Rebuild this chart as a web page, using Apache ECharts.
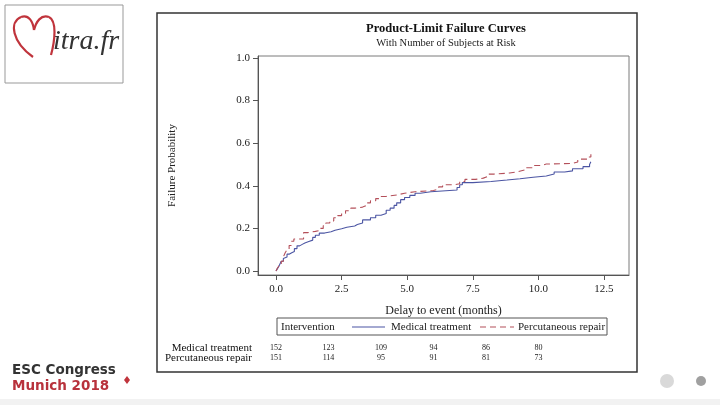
<!DOCTYPE html>
<html>
<head>
<meta charset="utf-8">
<script src="https://cdn.jsdelivr.net/npm/echarts@6/dist/echarts.min.js"></script>
<style>html,body{margin:0;padding:0;background:#fff;}#c{width:720px;height:405px;}</style>
</head>
<body>
<div id="c"></div>
<script>
// ---- data ----
var medTime = [0, 0.05, 0.1, 0.15, 0.2, 0.28, 0.35, 0.42, 0.5, 0.6, 0.7, 0.8, 0.9, 1.0, 1.1, 1.25, 1.4, 1.5, 1.65, 1.85, 2.1, 2.25, 2.5, 2.7, 3.0, 3.1, 3.3, 3.6, 3.8, 4.0, 4.2, 4.35, 4.5, 4.6, 4.75, 4.9, 5.1, 5.3, 5.5, 5.9, 6.9, 7.0, 7.1, 7.5, 8.2, 8.8, 9.3, 9.8, 10.3, 10.6, 11.0, 11.3, 11.7, 11.95, 12.0];
var medProb = [0, 0.01, 0.02, 0.033, 0.046, 0.059, 0.066, 0.079, 0.086, 0.092, 0.105, 0.118, 0.125, 0.131, 0.138, 0.145, 0.158, 0.168, 0.178, 0.184, 0.191, 0.198, 0.205, 0.211, 0.218, 0.225, 0.24, 0.25, 0.262, 0.27, 0.285, 0.295, 0.308, 0.32, 0.335, 0.345, 0.355, 0.365, 0.372, 0.38, 0.392, 0.405, 0.415, 0.42, 0.427, 0.433, 0.44, 0.446, 0.455, 0.465, 0.47, 0.48, 0.49, 0.5, 0.513];
var percTime = [0, 0.05, 0.12, 0.2, 0.28, 0.35, 0.42, 0.5, 0.58, 0.68, 1.05, 1.2, 1.5, 1.65, 1.8, 1.9, 2.05, 2.2, 2.35, 2.5, 2.65, 2.85, 3.0, 3.3, 3.45, 3.6, 3.8, 4.0, 4.2, 4.6, 4.9, 5.3, 6.0, 6.2, 6.35, 6.8, 7.0, 7.2, 7.6, 7.9, 8.1, 8.3, 8.9, 9.2, 9.5, 9.8, 10.1, 10.3, 11.3, 11.5, 11.9, 12.0];
var percProb = [0, 0.013, 0.026, 0.046, 0.066, 0.086, 0.1, 0.12, 0.14, 0.15, 0.18, 0.186, 0.19, 0.2, 0.213, 0.225, 0.235, 0.25, 0.26, 0.27, 0.283, 0.295, 0.3, 0.308, 0.32, 0.33, 0.34, 0.35, 0.357, 0.365, 0.372, 0.378, 0.384, 0.395, 0.405, 0.41, 0.42, 0.43, 0.436, 0.445, 0.455, 0.46, 0.466, 0.475, 0.485, 0.495, 0.502, 0.505, 0.512, 0.525, 0.535, 0.548];
var xTicks = [0, 2.5, 5, 7.5, 10, 12.5];
var yTicks = [0, 0.2, 0.4, 0.6, 0.8, 1.0];
var riskTimes = [0, 2, 4, 6, 8, 10];
var medRisk = [152, 123, 109, 94, 86, 80];
var percRisk = [151, 114, 95, 91, 81, 73];
var seriesNames = ['Medical treatment', 'Percutaneous repair'];
var colors = ['#4b55a3', '#b4505a'];

function pairs(t, p) { return t.map(function (v, i) { return [v, p[i]]; }); }

var serif = 'Liberation Serif';
var chart = echarts.init(document.getElementById('c'));
chart.setOption({
  animation: false,
  grid: { left: 258, top: 56, width: 371, height: 219, show: true, borderColor: '#7a7a7a', borderWidth: 1, backgroundColor: '#fff' },
  xAxis: {
    type: 'value', min: -0.686, max: 13.453,
    name: 'Delay to event (months)', nameLocation: 'middle', nameGap: 30,
    nameTextStyle: { fontFamily: serif, fontSize: 12, color: '#222' },
    axisLine: { onZero: false, lineStyle: { color: '#555' } },
    axisTick: { show: true, length: 5, customValues: xTicks, lineStyle: { color: '#555' } },
    axisLabel: { customValues: xTicks, fontFamily: serif, fontSize: 11, color: '#222', margin: 9, formatter: function (v) { return v.toFixed(1); } },
    splitLine: { show: false }
  },
  yAxis: {
    type: 'value', min: -0.0188, max: 1.0094,
    name: 'Failure Probability', nameLocation: 'middle', nameGap: 80,
    nameTextStyle: { fontFamily: serif, fontSize: 11, color: '#222' },
    axisLine: { show: true, onZero: false, lineStyle: { color: '#555' } },
    axisTick: { show: true, length: 5, customValues: yTicks, lineStyle: { color: '#555' } },
    axisLabel: { customValues: yTicks, fontFamily: serif, fontSize: 11, color: '#222', margin: 8, formatter: function (v) { return v.toFixed(1); } },
    splitLine: { show: false }
  },
  series: [
    { name: seriesNames[0], type: 'line', step: 'end', showSymbol: false, symbol: 'none', data: pairs(medTime, medProb), lineStyle: { color: colors[0], width: 1.1 }, itemStyle: { color: colors[0] } },
    { name: seriesNames[1], type: 'line', step: 'end', showSymbol: false, symbol: 'none', data: pairs(percTime, percProb), lineStyle: { color: colors[1], width: 1.1, type: [6, 4] }, itemStyle: { color: colors[1] } }
  ]
});

var g = [];
function txt(x, y, s, font, fill, align) {
  return { type: 'text', x: x, y: y, style: { text: s, font: font, fill: fill, textAlign: align || 'left', textVerticalAlign: 'middle' } };
}
// outer frame
g.push({ type: 'rect', shape: { x: 157, y: 13, width: 480, height: 359 }, style: { fill: null, stroke: '#333', lineWidth: 1.5 }, z: -1 });
// titles
g.push(txt(446, 29, 'Product-Limit Failure Curves', 'bold 12.5px "Liberation Serif"', '#111', 'center'));
g.push(txt(446, 43, 'With Number of Subjects at Risk', '10.5px "Liberation Serif"', '#222', 'center'));
// legend box
g.push({ type: 'rect', shape: { x: 277, y: 318, width: 330, height: 17 }, style: { fill: null, stroke: '#555', lineWidth: 1 } });
g.push(txt(281, 327, 'Intervention', '11px "Liberation Serif"', '#222'));
g.push({ type: 'line', shape: { x1: 352, y1: 327, x2: 385, y2: 327 }, style: { stroke: colors[0], lineWidth: 1.2 } });
g.push(txt(391, 327, seriesNames[0], '11px "Liberation Serif"', '#222'));
g.push({ type: 'line', shape: { x1: 480, y1: 327, x2: 514, y2: 327 }, style: { stroke: colors[1], lineWidth: 1.2, lineDash: [6, 4] } });
g.push(txt(518, 327, seriesNames[1], '11px "Liberation Serif"', '#222'));
// risk table
g.push(txt(252, 348, seriesNames[0], '11px "Liberation Serif"', '#111', 'right'));
g.push(txt(252, 358, seriesNames[1], '11px "Liberation Serif"', '#111', 'right'));
riskTimes.forEach(function (t, i) {
  var px = chart.convertToPixel({ gridIndex: 0 }, [t, 0])[0];
  g.push(txt(px, 348, String(medRisk[i]), '8px "Liberation Serif"', '#222', 'center'));
  g.push(txt(px, 358, String(percRisk[i]), '8px "Liberation Serif"', '#222', 'center'));
});
// logo
g.push({ type: 'rect', shape: { x: 5, y: 5, width: 118, height: 78 }, style: { fill: '#fff', stroke: '#999', lineWidth: 1 } });
var heartStyle = { fill: null, stroke: '#c0343c', lineWidth: 2.2 };
g.push({ type: 'bezierCurve', shape: { x1: 33, y1: 57, cpx1: 12, cpy1: 42, cpx2: 9, cpy2: 22, x2: 21, y2: 17 }, style: heartStyle });
g.push({ type: 'bezierCurve', shape: { x1: 21, y1: 17, cpx1: 29, cpy1: 14, cpx2: 33, cpy2: 22, x2: 34, y2: 30 }, style: heartStyle });
g.push({ type: 'bezierCurve', shape: { x1: 34, y1: 30, cpx1: 36, cpy1: 22, cpx2: 41, cpy2: 14, x2: 49, y2: 17 }, style: heartStyle });
g.push({ type: 'bezierCurve', shape: { x1: 49, y1: 17, cpx1: 57, cpy1: 21, cpx2: 55, cpy2: 40, x2: 51, y2: 55 }, style: heartStyle });
g.push(txt(53, 42, 'itra.fr', 'italic 28px "Liberation Serif"', '#333'));
// ESC Congress
g.push(txt(12, 370, 'ESC Congress', 'bold 13.5px "DejaVu Sans"', '#333'));
g.push(txt(12, 386, 'Munich 2018', 'bold 13.5px "DejaVu Sans"', '#b8323c'));
g.push({ type: 'polygon', shape: { points: [[127, 376], [130, 380], [127, 384], [124, 380]] }, style: { fill: '#c0343c' } });
g.push({ type: 'circle', shape: { cx: 667, cy: 381, r: 7 }, style: { fill: '#d9d9d9' } });
g.push({ type: 'circle', shape: { cx: 701, cy: 381, r: 5 }, style: { fill: '#a0a0a0' } });
g.push({ type: 'rect', shape: { x: 0, y: 399, width: 720, height: 6 }, style: { fill: '#f2f2f2' } });
chart.setOption({ graphic: g });
</script>
</body>
</html>
